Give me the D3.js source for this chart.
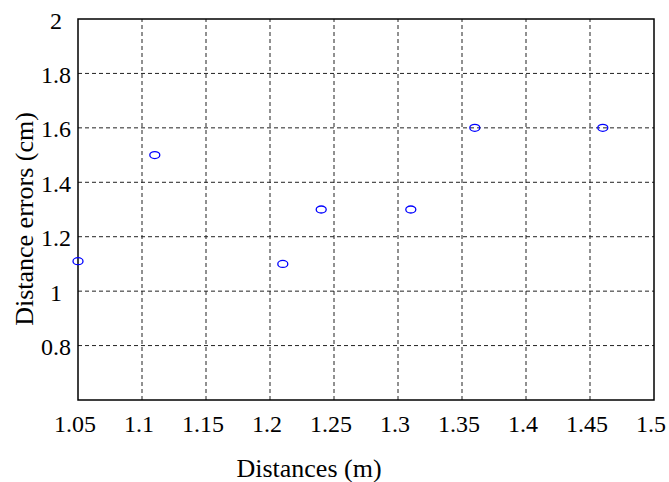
<!DOCTYPE html>
<html>
<head>
<meta charset="utf-8">
<script src="https://cdn.jsdelivr.net/npm/d3@7"></script>
<style>
  body { margin: 0; background: #fff; }
  svg text { font-family: "Liberation Serif", "DejaVu Serif", serif; fill: #000; }
  .grid line { stroke: #222; stroke-width: 1; stroke-dasharray: 4,3; }
</style>
</head>
<body>
<div id="chart"></div>
<script>
// measured distances (m) and their errors (cm)
var distances = [1.05, 1.11, 1.21, 1.24, 1.31, 1.36, 1.46];
var errors = [1.11, 1.5, 1.1, 1.3, 1.3, 1.6, 1.6];

var xTicks = [1.05, 1.1, 1.15, 1.2, 1.25, 1.3, 1.35, 1.4, 1.45, 1.5];
var yTicks = [0.8, 1, 1.2, 1.4, 1.6, 1.8, 2];

var width = 669, height = 482;
var margin = { top: 19, right: 15, bottom: 82, left: 78 };
var serif = "'Liberation Serif', 'Times New Roman', serif";

var svg = d3.select("#chart").append("svg")
    .attr("width", width)
    .attr("height", height);

var x = d3.scaleLinear().domain([1.05, 1.5]).range([margin.left, width - margin.right]);
var y = d3.scaleLinear().domain([0.6, 2]).range([height - margin.bottom, margin.top]);

// grid
var grid = svg.append("g").attr("class", "grid");
grid.selectAll("line.v")
    .data(xTicks.slice(1, -1))
    .enter().append("line")
    .attr("x1", function (d) { return x(d); })
    .attr("x2", function (d) { return x(d); })
    .attr("y1", y(0.6))
    .attr("y2", y(2));
grid.selectAll("line.h")
    .data(yTicks.slice(0, -1))
    .enter().append("line")
    .attr("x1", x(1.05))
    .attr("x2", x(1.5))
    .attr("y1", function (d) { return y(d); })
    .attr("y2", function (d) { return y(d); });

// frame
svg.append("rect")
    .attr("x", x(1.05))
    .attr("y", y(2))
    .attr("width", x(1.5) - x(1.05))
    .attr("height", y(0.6) - y(2))
    .attr("fill", "none")
    .attr("stroke", "#000")
    .attr("stroke-width", 1.5);

// tick labels
svg.selectAll("text.xt")
    .data(xTicks)
    .enter().append("text")
    .attr("class", "xt")
    .attr("x", function (d) { return x(d) - 3; })
    .attr("y", 432)
    .attr("text-anchor", "middle")
    .attr("font-family", serif)
    .attr("font-size", 24)
    .text(function (d) { return String(d); });

svg.selectAll("text.yt")
    .data(yTicks)
    .enter().append("text")
    .attr("class", "yt")
    .attr("x", 56)
    .attr("y", function (d) { return y(d); })
    .attr("dy", "0.4em")
    .attr("text-anchor", "middle")
    .attr("font-family", serif)
    .attr("font-size", 24)
    .text(function (d) { return String(d); });

// axis titles
svg.append("text")
    .attr("x", 309)
    .attr("y", 477)
    .attr("text-anchor", "middle")
    .attr("font-family", serif)
    .attr("font-size", 26)
    .text("Distances (m)");

svg.append("text")
    .attr("transform", "translate(33,219) rotate(-90)")
    .attr("text-anchor", "middle")
    .attr("font-family", serif)
    .attr("font-size", 26)
    .text("Distance errors (cm)");

// points
svg.selectAll("ellipse")
    .data(distances)
    .enter().append("ellipse")
    .attr("cx", function (d) { return x(d); })
    .attr("cy", function (d, i) { return y(errors[i]); })
    .attr("rx", 5)
    .attr("ry", 3.5)
    .attr("fill", "none")
    .attr("stroke", "#0000ff")
    .attr("stroke-width", 1.3);
</script>
</body>
</html>
